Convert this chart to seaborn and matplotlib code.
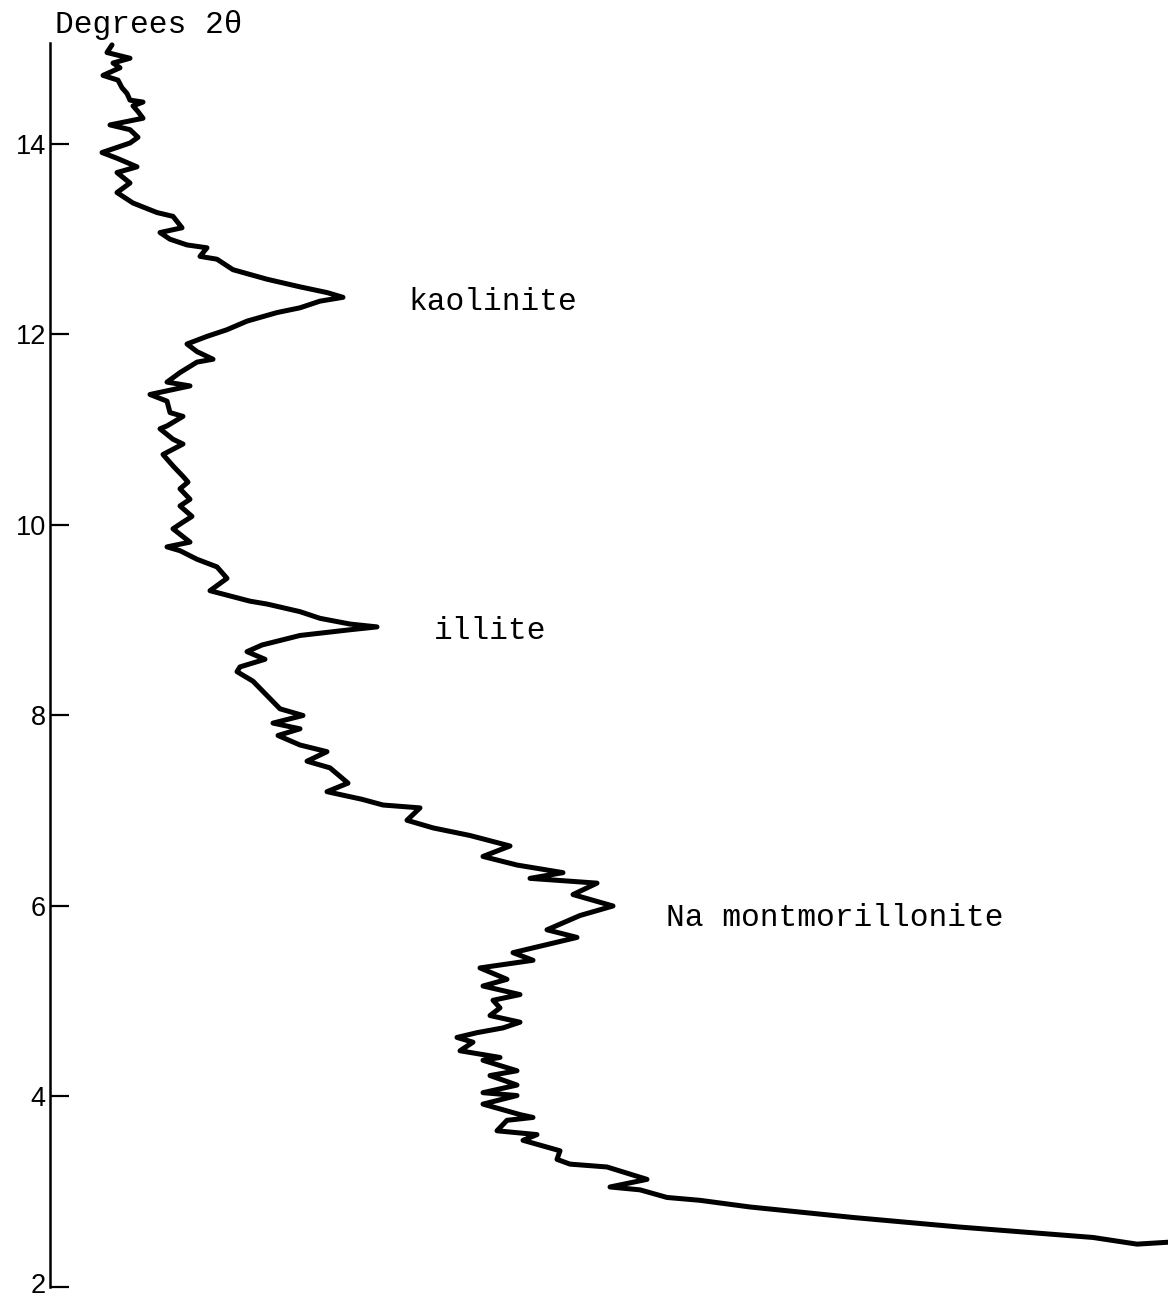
import matplotlib
matplotlib.use("Agg")
import matplotlib.pyplot as plt
import matplotlib.transforms as mtransforms
import seaborn as sns
import numpy as np
import pandas as pd

# Degrees 2-theta (vertical axis) and recorded intensity (arbitrary units, horizontal)
two_theta = [15.04, 14.96, 14.90, 14.85, 14.80, 14.72, 14.67, 14.59, 14.53, 14.46,
             14.44, 14.40, 14.34, 14.27, 14.20, 14.15, 14.07, 14.01, 13.91, 13.85,
             13.76, 13.70, 13.59, 13.49, 13.38, 13.28, 13.24, 13.12, 13.07, 13.00,
             12.94, 12.91, 12.82, 12.79, 12.68, 12.58, 12.50, 12.44, 12.39, 12.35,
             12.28, 12.23, 12.14, 12.05, 11.98, 11.90, 11.82, 11.74, 11.71, 11.60,
             11.50, 11.46, 11.37, 11.30, 11.18, 11.14, 11.04, 11.01, 10.90, 10.85,
             10.74, 10.62, 10.51, 10.45, 10.38, 10.27, 10.20, 10.09, 10.03, 9.96,
             9.82, 9.77, 9.73, 9.64, 9.56,
             9.44, 9.31, 9.20, 9.17, 9.09, 9.02, 8.96, 8.93, 8.90, 8.84,
             8.74, 8.67, 8.59, 8.51, 8.46, 8.36, 8.21, 8.07, 8.00, 7.92,
             7.86, 7.79, 7.69, 7.62, 7.52, 7.45, 7.29, 7.20, 7.12, 7.06,
             7.03, 6.90, 6.82, 6.74, 6.63, 6.52, 6.43, 6.35, 6.29, 6.24,
             6.12, 6.00, 5.90, 5.75, 5.67, 5.51, 5.43, 5.35, 5.23, 5.16,
             5.07, 5.01, 4.93, 4.85, 4.78, 4.72, 4.67, 4.62, 4.57, 4.48,
             4.41, 4.38, 4.27, 4.22, 4.12, 4.04, 4.01, 3.92, 3.81, 3.78,
             3.75, 3.64, 3.60, 3.54, 3.43, 3.34,
             3.29, 3.26, 3.13, 3.05, 3.02, 2.94, 2.91, 2.84, 2.73, 2.63,
             2.52, 2.45, 2.47]
intensity = [62, 57, 80, 63, 70, 53, 68, 72, 77, 80,
             93, 83, 88, 93, 60, 80, 88, 80, 52, 67,
             87, 67, 80, 67, 83, 107, 123, 132, 110, 120,
             137, 157, 150, 167, 183, 217, 250, 277, 293, 270,
             250, 227, 197, 177, 157, 137, 147, 163, 147, 130,
             117, 140, 100, 117, 120, 133, 117, 110, 123, 133,
             113, 123, 133, 138, 130, 140, 130, 142, 133, 123,
             140, 117, 130, 147, 167,
             177, 160, 200, 217, 250, 270, 300, 327, 300, 250,
             212, 197, 215, 190, 187, 203, 217, 230, 253, 223,
             250, 228, 250, 277, 257, 280, 298, 277, 312, 333,
             370, 357, 383, 420, 460, 433, 467, 513, 480, 547,
             523, 563, 530, 497, 527, 463, 483, 430, 457, 433,
             470, 443, 450, 440, 470, 453, 427, 407, 423, 410,
             450, 433, 467, 440, 467, 433, 467, 433, 470, 483,
             457, 447, 487, 473, 510, 507,
             520, 557, 597, 560, 590, 617, 650, 700, 803, 909,
             1043, 1087, 1118]

y_ticks = [2, 4, 6, 8, 10, 12, 14]
axis_title = "Degrees 2θ"
peak_names = ["kaolinite", "illite", "Na montmorillonite"]
peak_text_x = [358, 384, 616]
peak_text_y = [12.26, 8.80, 5.79]

df = pd.DataFrame({"two_theta": two_theta, "intensity": intensity})

sns.set_theme(style="white")
plt.rcParams["font.family"] = ["Liberation Mono", "DejaVu Sans Mono"]

W, H = 1168, 1302
fig = plt.figure(figsize=(W / 100, H / 100), dpi=100)
ax = fig.add_axes([50 / W, (H - 1287) / H, 1 - 50 / W, (1287 - 43) / H])

sns.lineplot(data=df, x="intensity", y="two_theta", sort=False, estimator=None,
             color="black", linewidth=3.6, ax=ax, clip_on=False)
for line in ax.get_lines():
    line.set_solid_joinstyle("round")
    line.set_solid_capstyle("round")

ax.set_xlim(0, 1118)
ax.set_ylim(2, 15.06)
ax.set_xticks([])
ax.set_yticks(y_ticks)
ax.set_yticklabels([str(t) for t in y_ticks])
ax.tick_params(axis="y", direction="in", length=14, width=1.6, pad=3,
               labelsize=19.5, colors="black", left=True)
ticklabels = ax.get_yticklabels()
for lab in ticklabels:
    lab.set_family(["Liberation Sans", "DejaVu Sans"])
# nudge the lowest label up a little so it stays inside the canvas
ticklabels[0].set_transform(ticklabels[0].get_transform() +
                            mtransforms.ScaledTranslation(0, 4 / 100, fig.dpi_scale_trans))
ax.set_xlabel("")
ax.set_ylabel("")
for s in ["top", "right", "bottom"]:
    ax.spines[s].set_visible(False)
ax.spines["left"].set_color("black")
ax.spines["left"].set_linewidth(1.8)

ax.text(5, 15.16, axis_title, fontsize=22.5, color="black", ha="left", va="baseline")
for name, tx, ty in zip(peak_names, peak_text_x, peak_text_y):
    ax.text(tx, ty, name, fontsize=22.5, color="black", ha="left", va="baseline")

fig.savefig("out.png", dpi=100, facecolor="white")
